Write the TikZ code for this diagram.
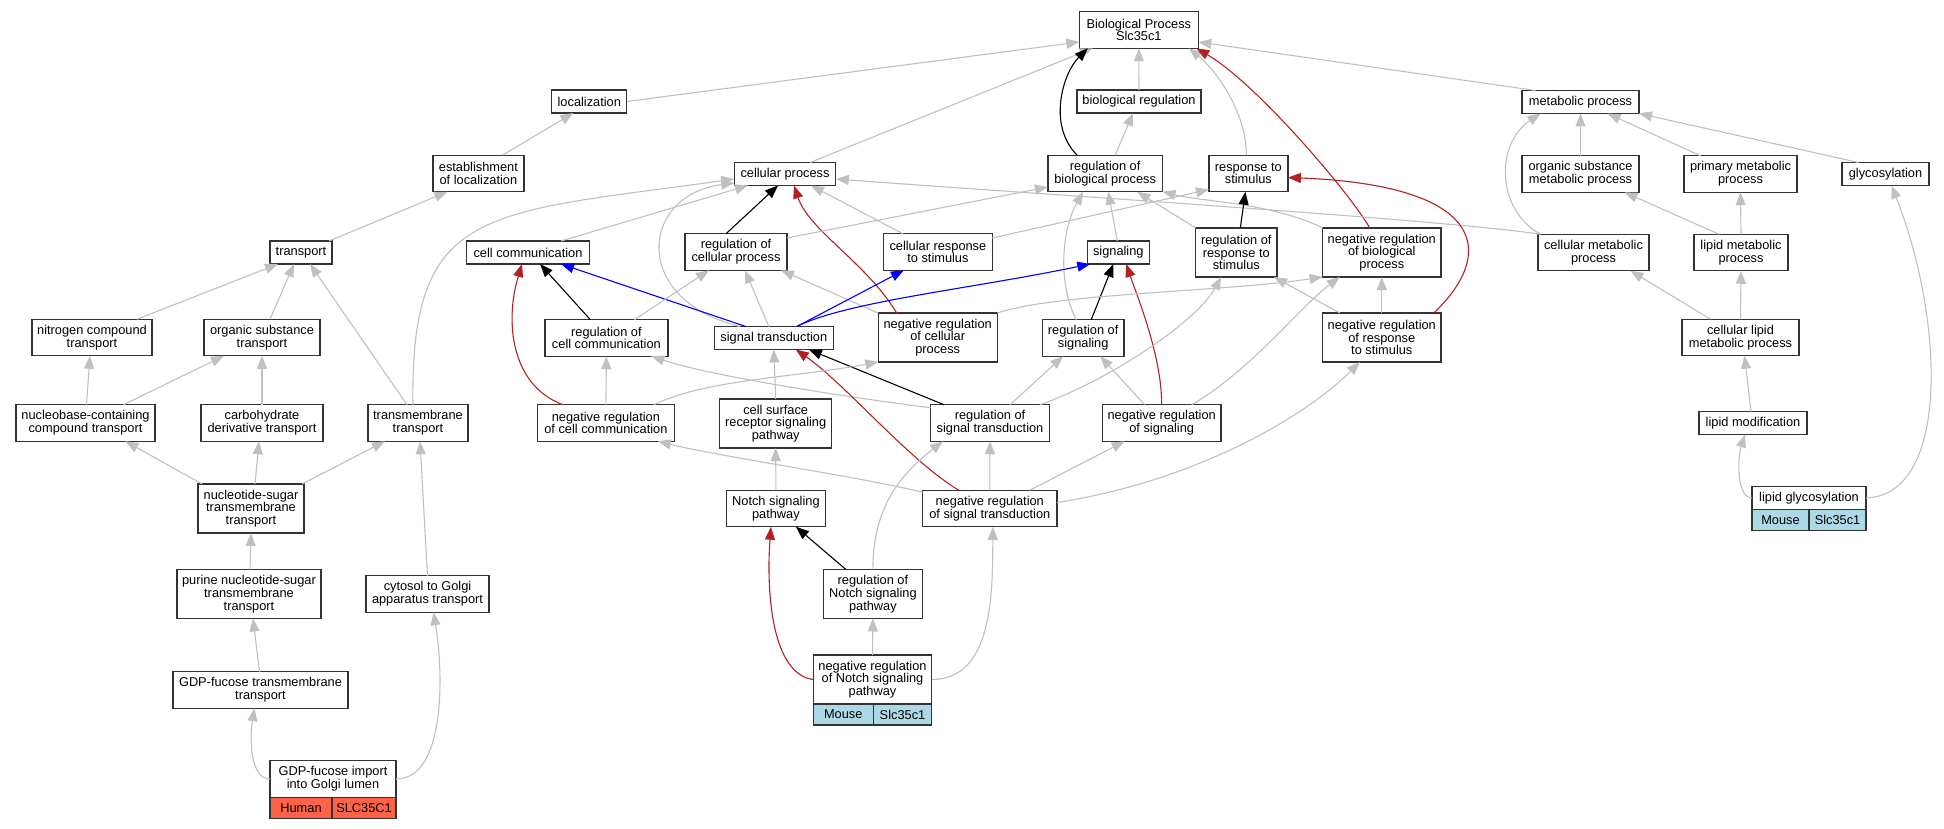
\documentclass[tikz,border=0pt]{standalone}
\usepackage{fontspec}
\setmainfont{Liberation Sans}
\usetikzlibrary{arrows.meta}
\definecolor{edgegray}{HTML}{C0C0C0}
\definecolor{negred}{HTML}{B22222}
\definecolor{sigblue}{HTML}{0000FF}
\definecolor{boxline}{HTML}{333333}
\definecolor{mousecell}{HTML}{ADD8E6}
\definecolor{humancell}{HTML}{FF6347}
\tikzset{
	term/.style={draw=boxline, line width=1.3pt, fill=white, align=center, inner sep=1pt, outer sep=0pt, minimum width=#1, minimum height=23pt, font=\fontsize{12.8}{12.7}\selectfont},
	tall/.style={minimum height=36.5pt},
	taller/.style={minimum height=49pt},
	cell/.style={draw=boxline, line width=1.3pt, fill=#1, inner sep=1pt, outer sep=0pt, minimum height=21pt, font=\fontsize{12.8}{12.7}\selectfont},
	isa/.style={draw=edgegray, line width=1.1pt, -{Triangle[length=13pt,width=10pt]}},
	regl/.style={isa, draw=black},
	negl/.style={isa, draw=negred},
	sigl/.style={isa, draw=sigblue}
}
\begin{document}
\begin{tikzpicture}[x=1pt, y=-1pt]
					\useasboundingbox (0,0) rectangle (1944,829);
					\node[term=119pt, tall] (bp) at (1138.8,30) {Biological Process\\Slc35c1};
					\node[term=75pt] (loc) at (589.3,101.5) {localization};
					\node[term=124pt] (biolreg) at (1139,101.5) {biological regulation};
					\node[term=117pt] (metab) at (1580.5,102) {metabolic process};
					\node[term=91pt, tall] (estab) at (478.4,173.5) {establishment\\of localization};
					\node[term=101.5pt] (cellproc) at (785,174) {cellular process};
					\node[term=114.6pt, tall] (regbp) at (1105.2,173.5) {regulation of\\biological process};
					\node[term=79pt, tall] (resp) at (1248.4,173.5) {response to\\stimulus};
					\node[term=117pt, tall] (orgmetab) at (1580.5,174) {organic substance\\metabolic process};
					\node[term=113pt, tall] (primmetab) at (1740.5,174) {primary metabolic\\process};
					\node[term=87pt] (glyco) at (1885.5,174) {glycosylation};
					\node[term=62pt] (transport) at (301,252.5) {transport};
					\node[term=122.5pt] (cellcomm) at (528,252.5) {cell communication};
					\node[term=102pt, tall] (regcp) at (736,252) {regulation of\\cellular process};
					\node[term=108.5pt, tall] (cellresp) at (937.9,252) {cellular response\\to stimulus};
					\node[term=62pt] (signaling) at (1118.3,252.5) {signaling};
					\node[term=81.3pt, taller] (regresp) at (1236.3,252.5) {regulation of\\response to\\stimulus};
					\node[term=118.3pt, taller] (nrbp) at (1381.8,252.5) {negative regulation\\of biological\\process};
					\node[term=111pt, tall] (cellmetab) at (1593.5,252.5) {cellular metabolic\\process};
					\node[term=94pt, tall] (lipmetab) at (1741,252.5) {lipid metabolic\\process};
					\node[term=120pt, tall] (nitro) at (92,337.5) {nitrogen compound\\transport};
					\node[term=116pt, tall] (orgtrans) at (262,337.5) {organic substance\\transport};
					\node[term=123pt, tall] (regcc) at (606.4,338) {regulation of\\cell communication};
					\node[term=119pt] (sigtrans) at (773.8,338) {signal transduction};
					\node[term=119pt, taller] (nrcp) at (937.7,337.5) {negative regulation\\of cellular\\process};
					\node[term=81.7pt, tall] (regsig) at (1083.2,338) {regulation of\\signaling};
					\node[term=118.3pt, taller] (nrrs) at (1381.8,337.5) {negative regulation\\of response\\to stimulus};
					\node[term=117pt, tall] (celllip) at (1740.5,337.5) {cellular lipid\\metabolic process};
					\node[term=139pt, tall] (nucbase) at (85.5,423) {nucleobase-containing\\compound transport};
					\node[term=122pt, tall] (carbo) at (262,423) {carbohydrate\\derivative transport};
					\node[term=100pt, tall] (tmtrans) at (418,423) {transmembrane\\transport};
					\node[term=137.5pt, tall] (nrcc) at (605.9,423) {negative regulation\\of cell communication};
					\node[term=112pt, taller] (csrsp) at (775.7,423.5) {cell surface\\receptor signaling\\pathway};
					\node[term=118.6pt, tall] (regst) at (990,423) {regulation of\\signal transduction};
					\node[term=118.7pt, tall] (nrsig) at (1161.7,423) {negative regulation\\of signaling};
					\node[term=108pt] (lipmod) at (1753,423) {lipid modification};
					\node[term=106pt, taller] (nstrans) at (251,508.5) {nucleotide-sugar\\transmembrane\\transport};
					\node[term=99pt, tall] (notch) at (775.9,508.5) {Notch signaling\\pathway};
					\node[term=134.6pt, tall] (nrst) at (989.8,508.5) {negative regulation\\of signal transduction};
					\node[term=114pt] (lipglyco) at (1809,498) {lipid glycosylation};
					\node[term=144pt, taller] (purine) at (249,594) {purine nucleotide-sugar\\transmembrane\\transport};
					\node[term=123pt, tall] (cytgolgi) at (427.5,594) {cytosol to Golgi\\apparatus transport};
					\node[term=99.3pt, taller] (regnotch) at (872.9,594) {regulation of\\Notch signaling\\pathway};
					\node[term=118.6pt, taller] (nrnotch) at (872.5,679.5) {negative regulation\\of Notch signaling\\pathway};
					\node[term=175pt, tall] (gdptm) at (260.5,690) {GDP-fucose transmembrane\\transport};
					\node[term=126pt, tall] (gdpimp) at (333,779) {GDP-fucose import\\into Golgi lumen};
					\node[cell=mousecell, minimum width=60pt, anchor=north west] (nrnotchsp) at (nrnotch.south west) {Mouse};
					\node[cell=mousecell, minimum width=58.6pt, anchor=north east] (nrnotchgn) at (nrnotch.south east) {Slc35c1};
					\node[cell=mousecell, minimum width=57pt, anchor=north west] (lipglycosp) at (lipglyco.south west) {Mouse};
					\node[cell=mousecell, minimum width=57pt, anchor=north east] (lipglycogn) at (lipglyco.south east) {Slc35c1};
					\node[cell=humancell, minimum width=62pt, anchor=north west] (gdpimpsp) at (gdpimp.south west) {Human};
					\node[cell=humancell, minimum width=64pt, anchor=north east] (gdpimpgn) at (gdpimp.south east) {SLC35C1};
					\draw[isa] (loc.east) -- ([yshift=-12pt]bp.west);
					\draw[isa] ([xshift=25pt]cellproc.north) -- ([xshift=-46pt]bp.south);
					\draw[regl] ([xshift=-28pt]regbp.north) .. controls +(-30,-30) and +(-25,25) .. ([xshift=-51pt]bp.south);
					\draw[isa] (biolreg.north) -- (bp.south);
					\draw[isa] ([xshift=-2pt]resp.north) .. controls +(0,-45) and +(25,20) .. ([xshift=50pt]bp.south);
					\draw[negl] ([xshift=-12pt]nrbp.north) .. controls +(-20,-35) and +(60,35) .. ([xshift=-2pt]bp.south east);
					\draw[isa] ([xshift=-45pt]metab.north) -- ([yshift=-12pt]bp.east);
					\draw[isa] ([xshift=24pt]estab.north) -- ([xshift=-16pt]loc.south);
					\draw[isa] ([xshift=10pt]regbp.north) -- ([xshift=-6pt]biolreg.south);
					\draw[isa] ([xshift=-27pt]glyco.north) -- (metab.south east);
					\draw[isa] (orgmetab.north) -- (metab.south);
					\draw[isa] ([xshift=-40pt]primmetab.north) -- ([xshift=27pt]metab.south);
					\draw[isa] ([xshift=-53pt]cellmetab.north) .. controls +(-45,-25) and +(-45,30) .. ([xshift=-40pt]metab.south);
					\draw[isa] ([xshift=28pt]transport.north) -- ([xshift=-31pt]estab.south);
					\draw[isa] ([xshift=-5pt]tmtrans.north) .. controls +(-3,-200) and +(-250,35) .. ([yshift=-5pt]cellproc.west);
					\draw[isa] ([xshift=33pt]cellcomm.north) -- ([xshift=-37pt]cellproc.south);
					\draw[isa] ([xshift=-34pt]sigtrans.north) .. controls +(-110,-27) and +(-94,12) .. ([yshift=-9pt]cellproc.west);
					\draw[regl] ([xshift=-10pt]regcp.north) -- ([xshift=-7pt]cellproc.south);
					\draw[negl] ([xshift=-41pt]nrcp.north) .. controls +(-30,-50) and +(15,45) .. ([xshift=9pt]cellproc.south);
					\draw[isa] ([xshift=-35pt]cellresp.north) -- ([xshift=26pt]cellproc.south);
					\draw[isa] ([xshift=-53pt]cellmetab.north) .. controls +(-100,-15) and +(200,15) .. ([yshift=-5pt]cellproc.east);
					\draw[isa] ([yshift=14pt]regcp.east) -- ([yshift=-13.5pt]regbp.west);
					\draw[isa] ([xshift=-7pt]regsig.north) .. controls +(-20,-40) and +(-20,35) .. ([xshift=-22pt]regbp.south);
					\draw[isa] ([xshift=-1pt]signaling.north) -- ([xshift=3pt]regbp.south);
					\draw[isa] (regresp.north west) -- ([xshift=32pt]regbp.south);
					\draw[isa] (nrbp.north west) .. controls +(-50,-25) and +(40,10) .. (regbp.south east);
					\draw[isa] ([yshift=14pt]cellresp.east) -- ([yshift=-16pt]resp.west);
					\draw[regl] ([xshift=4pt]regresp.north) -- ([xshift=-3pt]resp.south);
					\draw[negl] ([xshift=52pt]nrrs.north) .. controls +(61,-58) and +(202,8) .. ([yshift=-4pt]resp.east);
					\draw[isa] ([xshift=-22pt]lipmetab.north) -- ([xshift=44pt]orgmetab.south);
					\draw[isa] (lipmetab.north) -- (primmetab.south);
					\draw[isa] (lipglyco.east) .. controls +(84,-3) and +(53,135) .. ([xshift=6pt]glyco.south);
					\draw[isa] ([xshift=45pt]nitro.north) -- ([xshift=-23pt]transport.south);
					\draw[isa] ([xshift=8pt]orgtrans.north) -- ([xshift=-7pt]transport.south);
					\draw[isa] ([xshift=-11pt]tmtrans.north) -- ([xshift=9pt]transport.south);
					\draw[sigl] ([xshift=-28pt]sigtrans.north) -- ([xshift=33pt]cellcomm.south);
					\draw[regl] ([xshift=-16pt]regcc.north) -- ([xshift=12pt]cellcomm.south);
					\draw[negl] ([xshift=-43pt]nrcc.north) .. controls +(-53,-20) and +(-17,56) .. ([xshift=-6pt]cellcomm.south);
					\draw[isa] ([xshift=28pt]regcc.north) -- ([xshift=-27pt]regcp.south);
					\draw[isa] ([xshift=-5pt]sigtrans.north) -- ([xshift=9pt]regcp.south);
					\draw[isa] (nrcp.north west) -- ([xshift=45pt]regcp.south);
					\draw[sigl] ([xshift=23pt]sigtrans.north) -- ([xshift=-34pt]cellresp.south);
					\draw[sigl] ([xshift=23pt]sigtrans.north) .. controls +(50,-25) and +(-120,25) .. ([xshift=-28pt]signaling.south);
					\draw[regl] ([xshift=8pt]regsig.north) -- ([xshift=-5pt]signaling.south);
					\draw[negl] (nrsig.north) .. controls +(0,-50) and +(10,30) .. ([xshift=8pt]signaling.south);
					\draw[isa] ([xshift=50pt]regst.north) .. controls +(70,-25) and +(-25,45) .. ([xshift=-15pt]regresp.south);
					\draw[isa] ([xshift=-42pt]nrrs.north) -- ([xshift=-3pt]regresp.south east);
					\draw[isa] (nrrs.north) -- (nrbp.south);
					\draw[isa] (nrcp.north east) .. controls +(60,-20) and +(-100,15) .. (nrbp.south west);
					\draw[isa] ([xshift=30pt]nrsig.north) .. controls +(60,-35) and +(-40,30) .. ([xshift=-42pt]nrbp.south);
					\draw[isa] ([xshift=-30pt]celllip.north) -- ([xshift=37pt]cellmetab.south);
					\draw[isa] (celllip.north) -- (lipmetab.south);
					\draw[isa] ([xshift=-2pt]lipmod.north) -- ([xshift=4pt]celllip.south);
					\draw[isa] (lipglyco.west) .. controls +(-15,0) and +(-8,25) .. ([xshift=-8pt]lipmod.south);
					\draw[isa] ([xshift=1pt]nucbase.north) -- ([xshift=-2pt]nitro.south);
					\draw[isa] ([xshift=38pt]nucbase.north) -- ([xshift=-38pt]orgtrans.south);
					\draw[isa] (carbo.north) -- (orgtrans.south);
					\draw[isa] (nrcc.north) -- (regcc.south);
					\draw[isa] ([yshift=-3pt]regst.north west) .. controls +(-80,-10) and +(60,20) .. ([xshift=45pt]regcc.south);
					\draw[isa] (csrsp.north) -- (sigtrans.south);
					\draw[regl] ([xshift=-46pt]regst.north) -- ([xshift=35pt]sigtrans.south);
					\draw[negl] ([xshift=-31pt]nrst.north) .. controls +(-50,-30) and +(50,35) .. ([xshift=22pt]sigtrans.south);
					\draw[isa] ([xshift=48pt]nrcc.north) .. controls +(50,-25) and +(-80,15) .. (nrcp.south west);
					\draw[isa] ([xshift=20pt]regst.north) -- ([xshift=-20pt]regsig.south);
					\draw[isa] ([xshift=-17pt]nrsig.north) -- ([xshift=17pt]regsig.south);
					\draw[isa] ([yshift=6pt]nrst.east) .. controls +(130,-20) and +(-60,60) .. ([xshift=-22pt]nrrs.south);
					\draw[isa] (nrst.north) -- (regst.south);
					\draw[isa] (regnotch.north) .. controls +(0,-60) and +(-45,35) .. ([xshift=-47pt]regst.south);
					\draw[isa] ([xshift=40pt]nrst.north) -- ([xshift=-37pt]nrsig.south);
					\draw[isa] ([yshift=-2pt]nrst.north west) .. controls +(-60,-15) and +(60,15) .. ([xshift=52pt]nrcc.south);
					\draw[isa] (notch.north) -- (csrsp.south);
					\draw[isa] ([xshift=-49pt]nstrans.north) -- ([xshift=40pt]nucbase.south);
					\draw[isa] ([xshift=4pt]nstrans.north) -- ([xshift=-3pt]carbo.south);
					\draw[isa] ([xshift=51pt]nstrans.north) -- ([xshift=-33pt]tmtrans.south);
					\draw[isa] (cytgolgi.north) -- ([xshift=2pt]tmtrans.south);
					\draw[regl] ([xshift=-27pt]regnotch.north) -- ([xshift=20pt]notch.south);
					\draw[negl] (nrnotch.west) .. controls +(-40,-5) and +(-5,70) .. ([xshift=-5pt]notch.south);
					\draw[isa] ([xshift=1pt]purine.north) -- (nstrans.south);
					\draw[isa] ([xshift=-1pt]gdptm.north) -- ([xshift=4pt]purine.south);
					\draw[isa] (gdpimp.west) .. controls +(-20,0) and +(-5,30) .. ([xshift=-6pt]gdptm.south);
					\draw[isa] (gdpimp.east) .. controls +(50,0) and +(10,60) .. ([xshift=6pt]cytgolgi.south);
					\draw[isa] (nrnotch.north) -- (regnotch.south);
					\draw[isa] (nrnotch.east) .. controls +(60,0) and +(0,70) .. ([xshift=3pt]nrst.south);
\end{tikzpicture}
\end{document}
